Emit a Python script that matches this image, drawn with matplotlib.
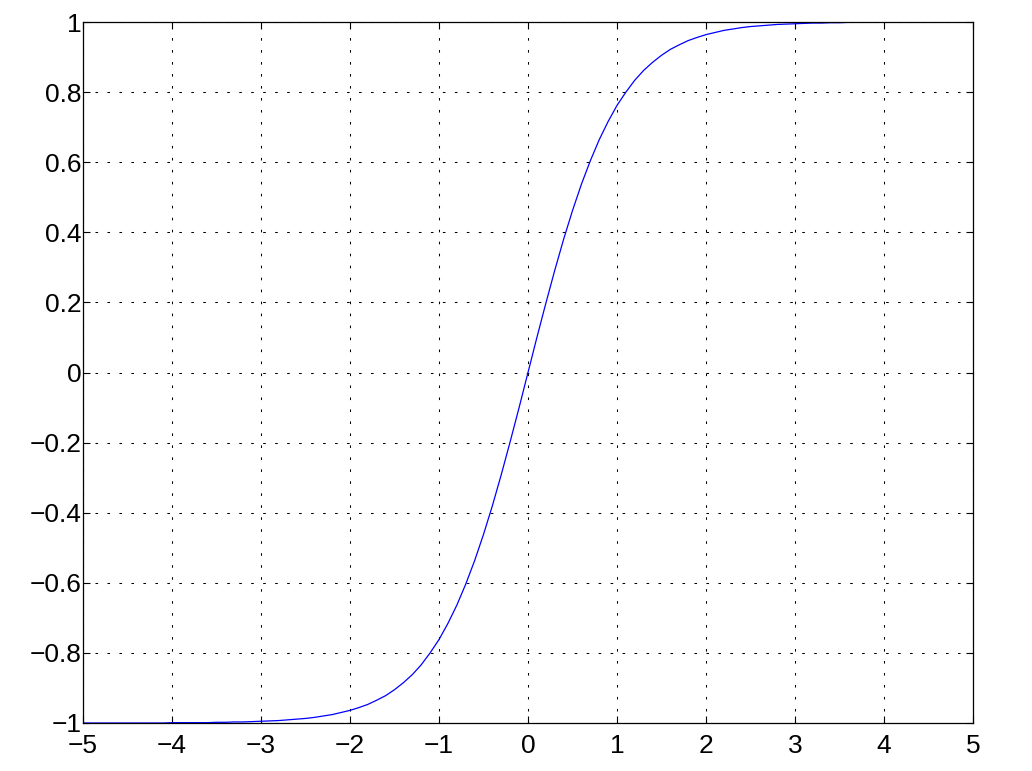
import matplotlib
matplotlib.use("Agg")
import matplotlib.pyplot as plt

x_values = [i / 10 for i in range(-50, 51)]
y_values = [
    -1.000, -1.000, -1.000, -1.000, -1.000, -1.000, -1.000, -1.000, -1.000, -1.000,
    -0.999, -0.999, -0.999, -0.999, -0.999, -0.998, -0.998, -0.997, -0.997, -0.996,
    -0.995, -0.994, -0.993, -0.991, -0.989, -0.987, -0.984, -0.980, -0.976, -0.970,
    -0.964, -0.956, -0.947, -0.935, -0.922, -0.905, -0.885, -0.862, -0.834, -0.800,
    -0.762, -0.716, -0.664, -0.604, -0.537, -0.462, -0.380, -0.291, -0.197, -0.100,
    0.000,
    0.100, 0.197, 0.291, 0.380, 0.462, 0.537, 0.604, 0.664, 0.716, 0.762,
    0.800, 0.834, 0.862, 0.885, 0.905, 0.922, 0.935, 0.947, 0.956, 0.964,
    0.970, 0.976, 0.980, 0.984, 0.987, 0.989, 0.991, 0.993, 0.994, 0.995,
    0.996, 0.997, 0.997, 0.998, 0.998, 0.999, 0.999, 0.999, 0.999, 0.999,
    1.000, 1.000, 1.000, 1.000, 1.000, 1.000, 1.000, 1.000, 1.000, 1.000,
]
x_ticks = [-5, -4, -3, -2, -1, 0, 1, 2, 3, 4, 5]
x_tick_labels = ["\u22125", "\u22124", "\u22123", "\u22122", "\u22121", "0", "1", "2", "3", "4", "5"]
y_ticks = [-1, -0.8, -0.6, -0.4, -0.2, 0, 0.2, 0.4, 0.6, 0.8, 1]
y_tick_labels = ["\u22121", "\u22120.8", "\u22120.6", "\u22120.4", "\u22120.2", "0",
                 "0.2", "0.4", "0.6", "0.8", "1"]

plt.rcParams['font.family'] = ['Liberation Sans', 'DejaVu Sans']

fig = plt.figure(figsize=(10.32, 7.71), dpi=100)
ax = fig.add_axes([83/1032, 1 - 723/771, (973-83)/1032, (723-22)/771])
ax.plot(x_values, y_values, color='#0000ff', linewidth=0.9)
ax.set_xlim(-5, 5)
ax.set_ylim(-1, 1)
ax.set_xticks(x_ticks)
ax.set_xticklabels(x_tick_labels)
ax.set_yticks(y_ticks)
ax.set_yticklabels(y_tick_labels)
ax.tick_params(direction='in', length=5, width=0.8, top=True, right=True,
               labelsize=19)
ax.tick_params(axis='y', pad=1)
ax.tick_params(axis='x', pad=8)
ax.grid(True, color='black', linestyle=(0, (2.5, 9)), linewidth=0.75)
for s in ax.spines.values():
    s.set_linewidth(0.9)
fig.savefig("out.png", dpi=100)
